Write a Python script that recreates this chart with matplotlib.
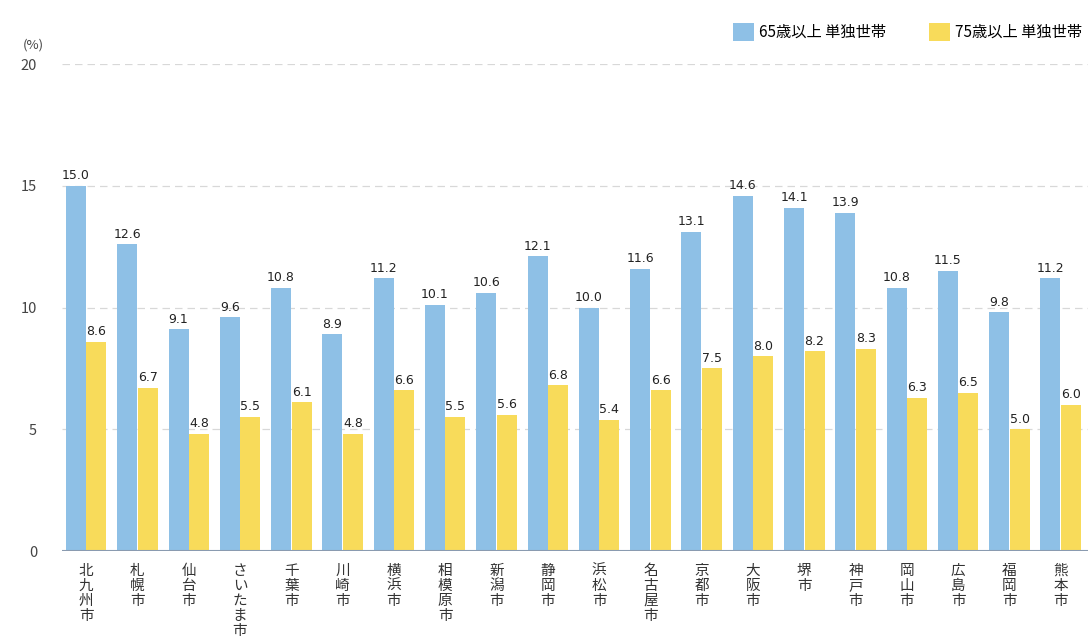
import matplotlib.pyplot as plt
import numpy as np

plt.rcParams['font.family'] = ['Noto Sans CJK JP', 'DejaVu Sans']

# data
cities = ["北九州市", "札幌市", "仙台市", "さいたま市", "千葉市", "川崎市", "横浜市",
          "相模原市", "新潟市", "静岡市", "浜松市", "名古屋市", "京都市", "大阪市",
          "堺市", "神戸市", "岡山市", "広島市", "福岡市", "熊本市"]
single_65 = [15.0, 12.6, 9.1, 9.6, 10.8, 8.9, 11.2, 10.1, 10.6, 12.1,
             10.0, 11.6, 13.1, 14.6, 14.1, 13.9, 10.8, 11.5, 9.8, 11.2]
single_75 = [8.6, 6.7, 4.8, 5.5, 6.1, 4.8, 6.6, 5.5, 5.6, 6.8,
             5.4, 6.6, 7.5, 8.0, 8.2, 8.3, 6.3, 6.5, 5.0, 6.0]
series_names = ["65歳以上 単独世帯", "75歳以上 単独世帯"]

blue = "#8ec0e6"
yellow = "#f8db5a"

fig = plt.figure(figsize=(10.89, 6.44), dpi=100)
ax = fig.add_axes([0.057, 0.1444, 0.942, 0.7562])

x = np.arange(len(cities))
w = 0.39
b1 = ax.bar(x - 0.2, single_65, width=w, color=blue, label=series_names[0], zorder=3)
b2 = ax.bar(x + 0.2, single_75, width=w, color=yellow, label=series_names[1], zorder=3)

# value labels
for bars, vals in ((b1, single_65), (b2, single_75)):
    for rect, v in zip(bars, vals):
        ax.text(rect.get_x() + rect.get_width() / 2, v + 0.15, f"{v:.1f}",
                ha="center", va="bottom", fontsize=9, color="#222222",
                family="DejaVu Sans", zorder=4)

ax.set_xlim(-0.47, 19.53)
ax.set_ylim(0, 20)
ax.set_yticks([0, 5, 10, 15, 20])
ax.yaxis.grid(True, linestyle=(0, (6, 4)), color="#d8d8d8", linewidth=0.9, zorder=0)
ax.axhline(0, color="#8a9bb0", linewidth=1.5, zorder=5)

for s in ax.spines.values():
    s.set_visible(False)
ax.tick_params(axis="y", length=0, labelsize=10.5, labelcolor="#444444", pad=18)
ax.tick_params(axis="x", length=0, pad=9)

ax.set_xticks(x)
ax.set_xticklabels(["\n".join(c) for c in cities], fontsize=10.5,
                   linespacing=1.1, va="top", color="#333333")

fig.text(0.021, 0.93, "(%)", fontsize=9.5, color="#444444", ha="left", va="center")

ax.legend(loc="lower right", bbox_to_anchor=(1.0, 1.035), ncol=2, frameon=False,
          fontsize=11, handlelength=1.4, handleheight=1.4, handletextpad=0.3,
          columnspacing=2.8, borderaxespad=0)

fig.savefig("out.png", dpi=100)
